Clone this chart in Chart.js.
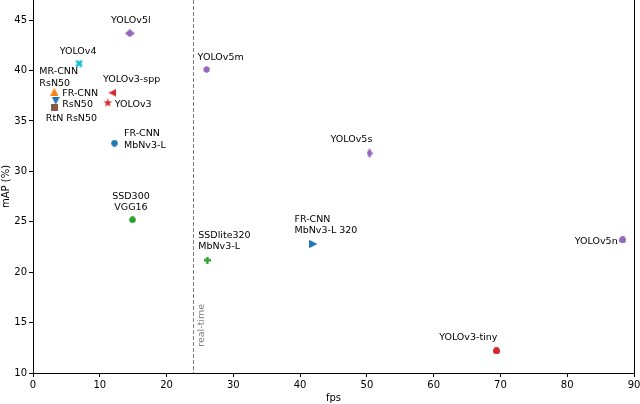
<!DOCTYPE html>
<html>
<head>
<meta charset="utf-8">
<script src="https://cdn.jsdelivr.net/npm/chart.js@4/dist/chart.umd.min.js"></script>
<style>
  html, body { margin: 0; padding: 0; background: #fff; }
</style>
</head>
<body>
<canvas id="fpsChart" width="640" height="404"></canvas>
<script>
// data
const models = ['YOLOv5l', 'YOLOv5m', 'YOLOv5s', 'YOLOv5n', 'YOLOv4', 'YOLOv3-spp', 'YOLOv3', 'YOLOv3-tiny',
    'MR-CNN RsN50', 'FR-CNN RsN50', 'RtN RsN50', 'FR-CNN MbNv3-L', 'SSD300 VGG16', 'SSDlite320 MbNv3-L', 'FR-CNN MbNv3-L 320'];
const fps = [14.5, 26.0, 50.4, 88.3, 6.9, 11.9, 11.2, 69.4, 3.2, 3.4, 3.2, 12.2, 14.9, 26.1, 42.0];
const mapScores = [43.7, 40.1, 31.8, 23.2, 40.7, 37.8, 36.8, 12.2, 37.9, 37.0, 36.3, 32.8, 25.2, 21.2, 22.8];
const labelText = ['YOLOv5l', 'YOLOv5m', 'YOLOv5s', 'YOLOv5n', 'YOLOv4', 'YOLOv3-spp', 'YOLOv3', 'YOLOv3-tiny',
    'MR-CNN\nRsN50', 'FR-CNN\nRsN50', 'RtN RsN50', 'FR-CNN\nMbNv3-L', 'SSD300\nVGG16', 'SSDlite320\nMbNv3-L', 'FR-CNN\nMbNv3-L 320'];
const xTickStep = 10;
const yTickStep = 5;
const realTimeFps = 24;

// styles (kept apart from the data)
const markerShape = ['diamond', 'hexagon', 'thin', 'circle', 'x', 'tri-left', 'star', 'circle',
    'tri-up', 'tri-down', 'square', 'octagon', 'octagon', 'plus', 'tri-right'];
const markerColor = ['#9467bd', '#9467bd', '#9467bd', '#9467bd', '#17becf', '#d62728', '#d62728', '#d62728',
    '#ff7f0e', '#1f77b4', '#8c564b', '#1f77b4', '#2ca02c', '#2ca02c', '#1f77b4'];
const markerSize = [[10, 8], [7, 7], [6, 10], [7, 7], [8, 8], [8, 8], [9, 9], [7, 7],
    [8, 8], [8, 8], [7, 7], [7, 7], [7, 7], [7, 7], [8, 8]];
// label placement: [align, dx, dy] relative to the marker
const labelPlace = [
    ['center', 1, -13], ['left', -9, -12.5], ['left', -39, -13.5], ['right', -5, 1.5],
    ['center', -1, -12], ['left', -9.5, -13], ['left', 7, 1.5], ['right', 1, -13.5],
    ['left', -15, -20], ['left', 6.5, -7.5], ['left', -8.5, 11], ['left', 9.5, -9.5],
    ['center', -1.5, -23.5], ['left', -9, -25], ['left', -19, -24.5],
];

function polygon(g, pts) {
    g.moveTo(pts[0][0], pts[0][1]);
    for (let i = 1; i < pts.length; i++) g.lineTo(pts[i][0], pts[i][1]);
    g.closePath();
}

function makeMarker(shape, color, w, h) {
    const c = document.createElement('canvas');
    c.width = w; c.height = h;
    const g = c.getContext('2d');
    g.fillStyle = color;
    g.beginPath();
    const cx = w / 2, cy = h / 2, r = Math.min(w, h) / 2;
    const ring = (n, start, rad) => Array.from({ length: n }, (_, k) => {
        const a = start + k * 2 * Math.PI / n;
        return [cx + rad(k) * Math.cos(a), cy + rad(k) * Math.sin(a)];
    });
    if (shape === 'circle') g.arc(cx, cy, r, 0, 2 * Math.PI);
    else if (shape === 'square') g.rect(0, 0, w, h);
    else if (shape === 'diamond' || shape === 'thin') polygon(g, [[cx, 0], [w, cy], [cx, h], [0, cy]]);
    else if (shape === 'tri-up') polygon(g, [[cx, 0], [w, h], [0, h]]);
    else if (shape === 'tri-down') polygon(g, [[0, 0], [w, 0], [cx, h]]);
    else if (shape === 'tri-left') polygon(g, [[0, cy], [w, 0], [w, h]]);
    else if (shape === 'tri-right') polygon(g, [[0, 0], [w, cy], [0, h]]);
    else if (shape === 'hexagon') polygon(g, ring(6, -Math.PI / 2, () => r));
    else if (shape === 'octagon') polygon(g, ring(8, Math.PI / 8, () => r));
    else if (shape === 'star') polygon(g, ring(10, -Math.PI / 2, (k) => (k % 2 ? r * 0.42 : r)));
    else if (shape === 'plus' || shape === 'x') {
        const t = w / 6;
        const pts = [[cx - t, 0], [cx + t, 0], [cx + t, cy - t], [w, cy - t], [w, cy + t], [cx + t, cy + t],
            [cx + t, h], [cx - t, h], [cx - t, cy + t], [0, cy + t], [0, cy - t], [cx - t, cy - t]];
        if (shape === 'x') {
            g.translate(cx, cy); g.rotate(Math.PI / 4); g.translate(-cx, -cy);
        }
        polygon(g, pts);
    }
    g.fill();
    return c;
}

const markers = markerShape.map((s, i) => makeMarker(s, markerColor[i], markerSize[i][0], markerSize[i][1]));

const labelPlugin = {
    id: 'pointLabels',
    afterDatasetsDraw(chart) {
        const ctx = chart.ctx;
        const pts = chart.getDatasetMeta(0).data;
        ctx.save();
        ctx.font = '9.5px "DejaVu Sans"';
        ctx.fillStyle = '#000';
        ctx.textBaseline = 'middle';
        pts.forEach((p, i) => {
            const [align, dx, dy] = labelPlace[i];
            ctx.textAlign = align;
            labelText[i].split('\n').forEach((line, j) => {
                ctx.fillText(line, p.x + dx, p.y + dy + j * 11.5);
            });
        });
        ctx.restore();
    },
};

const realTimePlugin = {
    id: 'realTime',
    beforeDatasetsDraw(chart) {
        const { ctx, chartArea, scales } = chart;
        const x = Math.round(scales.x.getPixelForValue(realTimeFps)) + 0.5;
        ctx.save();
        ctx.strokeStyle = '#7f7f7f';
        ctx.lineWidth = 1;
        ctx.setLineDash([4, 2]);
        ctx.beginPath();
        ctx.moveTo(x, chartArea.top);
        ctx.lineTo(x, chartArea.bottom);
        ctx.stroke();
        ctx.setLineDash([]);
        // right spine
        ctx.strokeStyle = '#000';
        ctx.beginPath();
        ctx.moveTo(chartArea.right + 0.5, chartArea.top);
        ctx.lineTo(chartArea.right + 0.5, chartArea.bottom);
        ctx.stroke();
        ctx.translate(x + 8.5, scales.y.getPixelForValue(12.6));
        ctx.rotate(-Math.PI / 2);
        ctx.font = '9.5px "DejaVu Sans"';
        ctx.fillStyle = '#7f7f7f';
        ctx.textAlign = 'left';
        ctx.textBaseline = 'middle';
        ctx.fillText('real-time', 0, 0);
        ctx.restore();
    },
};

const axisFont = { family: 'DejaVu Sans', size: 10 };

const ctx = document.getElementById('fpsChart').getContext('2d');
const chart = new Chart(ctx, {
    type: 'scatter',
    data: {
        labels: models,
        datasets: [
            {
                label: 'models',
                data: fps.map((f, i) => ({ x: f, y: mapScores[i] })),
                pointStyle: markers,
                pointRadius: 5,
                pointHoverRadius: 5,
                clip: false,
            },
        ],
    },
    options: {
        responsive: false,
        animation: false,
        layout: { autoPadding: false, padding: { left: 0, right: 6, top: 0, bottom: 0 } },
        plugins: {
            legend: { display: false },
            tooltip: { enabled: false },
        },
        scales: {
            x: {
                type: 'linear',
                position: 'bottom',
                min: 0,
                max: 90,
                ticks: { stepSize: xTickStep, color: '#000', font: axisFont, padding: 2, maxRotation: 0 },
                grid: { drawOnChartArea: false, tickLength: 4, color: '#000' },
                border: { color: '#000', width: 1 },
                title: { display: true, text: 'fps', color: '#000', font: axisFont, padding: 0 },
                afterFit: (scale) => { scale.height = 31; scale.paddingLeft = 0; scale.paddingRight = 0; },
            },
            y: {
                min: 10,
                max: 47,
                ticks: { stepSize: yTickStep, includeBounds: false, color: '#000', font: axisFont, padding: 2 },
                grid: { drawOnChartArea: false, tickLength: 4, color: '#000' },
                border: { color: '#000', width: 1 },
                title: { display: true, text: 'mAP (%)', color: '#000', font: axisFont, padding: 0 },
                afterFit: (scale) => { scale.width = 33; scale.paddingTop = 0; scale.paddingBottom = 0; },
            },
        },
    },
    plugins: [labelPlugin, realTimePlugin],
});
</script>
</body>
</html>
